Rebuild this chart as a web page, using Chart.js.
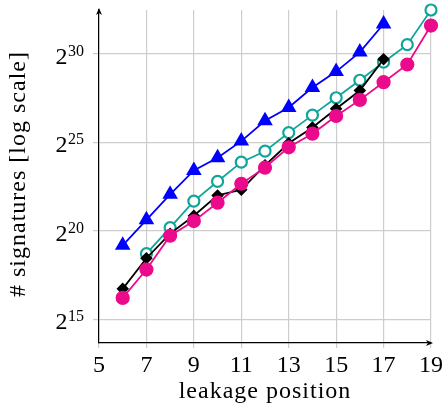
<!DOCTYPE html>
<html><head><meta charset="utf-8">
<script src="https://cdn.jsdelivr.net/npm/chart.js@4/dist/chart.umd.min.js"></script>
<style>html,body{margin:0;padding:0;background:#fff}#wrap{width:446px;height:412px;position:relative}</style>
</head><body><div id="wrap"><canvas id="c" width="446" height="412"></canvas></div>
<script>
// leakage positions per series
const posBlue  = [6,7,8,9,10,11,12,13,14,15,16,17];
const posBlack = [6,7,8,9,10,11,12,13,14,15,16,17];
const posTeal  = [7,8,9,10,11,12,13,14,15,16,17,18,19];
const posPink  = [6,7,8,9,10,11,12,13,14,15,16,17,18,19];
// log2(# signatures)
const blueLog2  = [19.18,20.62,22.06,23.41,24.13,25.07,26.22,26.97,28.1,29.0,30.1,31.69];
const blackLog2 = [16.72,18.45,19.84,20.85,22.0,22.32,23.7,24.95,25.84,26.9,27.93,29.7];
const tealLog2  = [18.71,20.18,21.68,22.79,23.88,24.5,25.55,26.54,27.52,28.51,29.53,30.52,32.48];
const pinkLog2  = [16.21,17.81,19.72,20.55,21.59,22.66,23.57,24.72,25.49,26.49,27.4,28.4,29.4,31.6];
// tick labels
const xTickValues = [5,7,9,11,13,15,17,19];
const yTickExponents = [15,20,25,30];
const xTitle = 'leakage position';
const yTitle = '# signatures [log scale]';

const toPts = (xs, ys) => xs.map((x, i) => ({x: x, y: ys[i]}));
const SERIF = '"Liberation Serif", "DejaVu Serif", serif';

const decor = {
  id: 'decor',
  afterDraw(chart) {
    const ctx = chart.ctx;
    const ca = chart.chartArea;
    const ys = chart.scales.y;
    ctx.save();
    ctx.fillStyle = '#000';
    ctx.strokeStyle = '#000';
    // y tick labels 2^n
    const rightEdge = 84;
    yTickExponents.forEach(e => {
      const py = ys.getPixelForValue(e);
      ctx.font = '16px ' + SERIF;
      const ex = String(e);
      const w = ctx.measureText(ex).width;
      ctx.textAlign = 'left';
      ctx.textBaseline = 'alphabetic';
      ctx.fillText(ex, rightEdge - w, py + 2);
      ctx.font = '24px ' + SERIF;
      ctx.textAlign = 'right';
      ctx.fillText('2', rightEdge - w - 0.5, py + 10);
    });
    // titles
    if ('letterSpacing' in ctx) ctx.letterSpacing = '1px';
    ctx.font = '24px ' + SERIF;
    ctx.textAlign = 'center';
    ctx.textBaseline = 'alphabetic';
    ctx.fillText(xTitle, (ca.left + ca.right) / 2, 398);
    ctx.save();
    ctx.translate(19, 174);
    ctx.rotate(-Math.PI / 2);
    ctx.textBaseline = 'middle';
    ctx.fillText(yTitle, 0, 0);
    ctx.restore();
    if ('letterSpacing' in ctx) ctx.letterSpacing = '0px';
    // arrows
    ctx.lineWidth = 1;
    ctx.beginPath();
    ctx.moveTo(ca.left, ca.top - 2);
    ctx.lineTo(ca.left - 3, ca.top + 5);
    ctx.lineTo(ca.left, ca.top + 3);
    ctx.lineTo(ca.left + 3, ca.top + 5);
    ctx.closePath();
    ctx.fill();
    ctx.beginPath();
    ctx.moveTo(ca.right + 2, ca.bottom);
    ctx.lineTo(ca.right - 5, ca.bottom - 3);
    ctx.lineTo(ca.right - 3, ca.bottom);
    ctx.lineTo(ca.right - 5, ca.bottom + 3);
    ctx.closePath();
    ctx.fill();
    ctx.restore();
  }
};

new Chart(document.getElementById('c'), {
  type: 'line',
  data: {
    datasets: [
      {data: toPts(posPink, pinkLog2), borderColor: '#eb0a8c', backgroundColor: '#eb0a8c',
       pointBackgroundColor: '#eb0a8c', pointBorderColor: '#eb0a8c', pointStyle: 'circle',
       pointRadius: 6.2, borderWidth: 1.8, order: 1},
      {data: toPts(posBlack, blackLog2), borderColor: '#000', backgroundColor: '#000',
       pointBackgroundColor: '#000', pointBorderColor: '#000', pointStyle: 'rectRot',
       pointRadius: 5, borderWidth: 1.8, order: 2},
      {data: toPts(posTeal, tealLog2), borderColor: '#10a59a', backgroundColor: '#fff',
       pointBackgroundColor: '#fff', pointBorderColor: '#10a59a', pointStyle: 'circle',
       pointRadius: 5.5, pointBorderWidth: 2.2, borderWidth: 1.8, order: 3},
      {data: toPts(posBlue, blueLog2), borderColor: '#0000ff', backgroundColor: '#0000ff',
       pointBackgroundColor: '#0000ff', pointBorderColor: '#0000ff', pointStyle: 'triangle',
       pointRadius: 7.2, borderWidth: 1.8, order: 4}
    ]
  },
  options: {
    responsive: false,
    animation: false,
    devicePixelRatio: 1,
    layout: {padding: {top: 10, right: 13, left: 0, bottom: 0}},
    plugins: {legend: {display: false}, tooltip: {enabled: false}},
    elements: {line: {tension: 0, fill: false}, point: {hoverRadius: 6}},
    datasets: {line: {clip: false}},
    scales: {
      x: {
        type: 'linear', min: 5, max: 19,
        afterBuildTicks: s => { s.ticks = xTickValues.map(v => ({value: v})); },
        afterFit: s => { s.height = 69; },
        ticks: {color: '#000', font: {family: SERIF, size: 24}, padding: 3, maxRotation: 0, autoSkip: false},
        grid: {color: '#cdcdcd', lineWidth: 1.2, tickLength: 5},
        border: {color: '#000', width: 1.2}
      },
      y: {
        type: 'linear', min: 13.66, max: 32.48,
        afterBuildTicks: s => { s.ticks = yTickExponents.map(v => ({value: v})); },
        afterFit: s => { s.width = 99; },
        ticks: {callback: () => '', padding: 0},
        grid: {color: '#cdcdcd', lineWidth: 1.2, tickLength: 6},
        border: {color: '#000', width: 1.2}
      }
    }
  },
  plugins: [decor]
});
</script></body></html>
